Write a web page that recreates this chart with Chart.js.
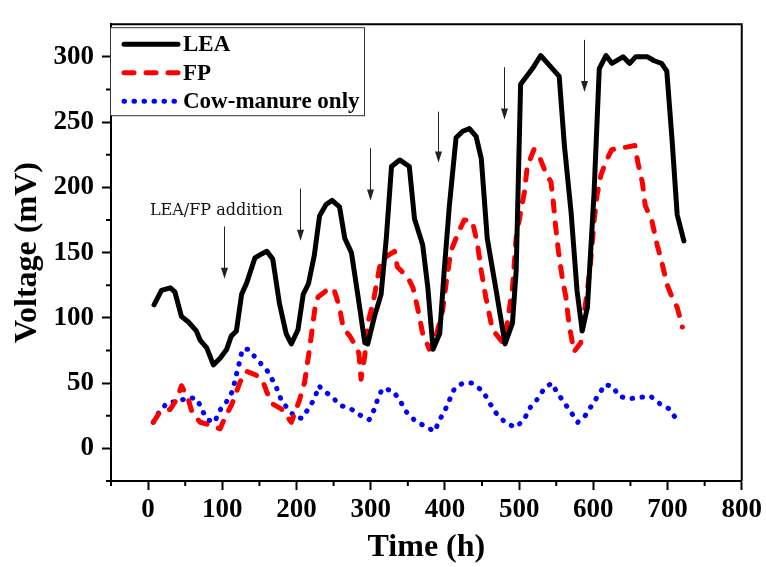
<!DOCTYPE html>
<html>
<head>
<meta charset="UTF-8">
<title>Voltage vs time</title>
<script src="https://cdn.jsdelivr.net/npm/chart.js"></script>
<style>
  body { margin: 0; background: #fff; }
</style>
</head>
<body>
<canvas id="chart" width="766" height="567"></canvas>
<script>
// LEA (black line)
const leaTime = [8, 18, 30, 36, 45, 54, 65, 70, 79, 88, 97, 106, 112, 119, 126, 133, 144, 153, 160, 168,
  177, 186, 193, 202, 209, 216, 224, 231, 240, 248, 258, 265, 274, 283, 292, 296, 305, 314, 321, 328,
  339, 352, 359, 370, 377, 384, 393, 399, 406, 415, 424, 433, 442, 449, 457, 469, 481, 491, 496, 502,
  518, 529, 540, 554, 561, 570, 578, 585, 592, 601, 608, 617, 625, 640, 649, 657, 673, 682, 692, 699,
  706, 713, 722];
const leaVoltage = [110, 121, 123, 120, 101, 97, 90, 83, 77, 64, 69, 76, 86, 90, 118, 127, 146, 149, 151, 145,
  111, 88, 80, 91, 118, 126, 148, 178, 187, 190, 185, 161, 150, 116, 81, 80, 101, 118, 161, 216,
  221, 216, 176, 156, 123, 76, 88, 136, 186, 238, 243, 245, 239, 222, 161, 121, 80, 96, 136, 279,
  291, 301, 294, 285, 232, 181, 121, 90, 108, 196, 291, 301, 295, 300, 295, 300, 300, 297, 295, 289,
  237, 179, 159];

// FP (red dashes)
const fpTime = [7, 16, 30, 39, 45, 54, 59, 70, 83, 97, 104, 113, 124, 133, 146, 155, 160, 168, 180, 193,
  204, 211, 218, 225, 229, 245, 251, 258, 263, 272, 276, 284, 287, 292, 296, 303, 312, 321, 332, 336,
  350, 357, 363, 370, 379, 388, 397, 402, 408, 417, 426, 437, 444, 449, 455, 464, 478, 484, 491, 496,
  502, 507, 511, 520, 527, 536, 543, 546, 549, 553, 558, 563, 567, 574, 583, 587, 592, 596, 601, 605,
  610, 617, 625, 637, 656, 660, 666, 670, 679, 686, 693, 699, 706, 713, 720];
const fpVoltage = [20, 28, 30, 38, 48, 38, 28, 20, 18, 15, 24, 34, 51, 59, 56, 51, 43, 34, 30, 20,
  37, 51, 78, 108, 116, 123, 121, 108, 92, 86, 82, 73, 53, 71, 96, 111, 139, 147, 151, 139,
  131, 123, 108, 88, 76, 86, 106, 128, 151, 164, 175, 174, 156, 136, 116, 91, 81, 96, 123, 161,
  181, 196, 216, 229, 224, 211, 204, 189, 171, 151, 131, 116, 96, 74, 81, 101, 121, 141, 174, 194,
  209, 220, 229, 230, 232, 219, 204, 186, 174, 156, 141, 126, 116, 108, 93];

// Cow-manure only (blue dots)
const cowTime = [7, 15, 26, 41, 54, 66, 73, 80, 90, 95, 106, 114, 117, 124, 127, 135, 147, 160, 168, 175,
  180, 189, 198, 207, 218, 225, 230, 237, 247, 259, 274, 287, 298, 305, 310, 316, 330, 339, 348, 360,
  373, 386, 393, 400, 406, 413, 424, 436, 451, 460, 469, 481, 495, 507, 513, 525, 534, 544, 551, 562,
  572, 579, 589, 598, 607, 616, 627, 634, 648, 662, 677, 690, 703, 711];
const cowVoltage = [20, 28, 35, 36, 39, 38, 29, 22, 20, 28, 36, 44, 52, 68, 76, 76, 68, 60, 52, 44,
  36, 30, 24, 23, 32, 39, 48, 44, 40, 33, 30, 25, 22, 30, 39, 46, 44, 37, 28, 21,
  17, 13, 22, 29, 37, 46, 50, 50, 44, 35, 27, 20, 16, 22, 30, 38, 46, 50, 43, 34,
  26, 20, 25, 33, 41, 49, 47, 40, 38, 39, 40, 34, 30, 23];

const xTicks = [0, 100, 200, 300, 400, 500, 600, 700, 800];
const xMinorTicks = [-50, 50, 150, 250, 350, 450, 550, 650, 750];
const yTicks = [0, 50, 100, 150, 200, 250, 300];
const yMinorTicks = [-25, 25, 75, 125, 175, 225, 275];

// LEA/FP addition arrows: time, top of shaft, tip (mV)
const additionTimes = [102, 205, 299, 390, 480, 588];
const arrowTop = [170, 199, 230, 258, 292, 313];
const arrowTip = [130, 159, 190, 219, 252, 273];
const noteText = 'LEA/FP addition';
const noteAt = { x: 92, y: 182 };

const serif = 'Liberation Serif, Times New Roman, serif';

const toPoints = (xs, ys) => xs.map((x, i) => ({ x: x, y: ys[i] }));

const decorations = {
  id: 'decorations',
  afterDraw(chart) {
    const ctx = chart.ctx;
    const a = chart.chartArea;
    const xs = chart.scales.x, ys = chart.scales.y;
    ctx.save();

    // top and right frame
    ctx.strokeStyle = '#000';
    ctx.lineWidth = 2;
    ctx.beginPath();
    ctx.moveTo(a.left, a.top);
    ctx.lineTo(a.right, a.top);
    ctx.lineTo(a.right, a.bottom);
    ctx.stroke();

    // minor ticks
    ctx.beginPath();
    xMinorTicks.forEach(v => {
      const px = xs.getPixelForValue(v);
      ctx.moveTo(px, a.bottom);
      ctx.lineTo(px, a.bottom + 5);
    });
    yMinorTicks.forEach(v => {
      const py = ys.getPixelForValue(v);
      ctx.moveTo(a.left, py);
      ctx.lineTo(a.left - 5, py);
    });
    ctx.stroke();

    // arrows
    ctx.strokeStyle = '#222';
    ctx.fillStyle = '#222';
    ctx.lineWidth = 1;
    additionTimes.forEach((t, i) => {
      const px = Math.round(xs.getPixelForValue(t)) + 0.5;
      const top = ys.getPixelForValue(arrowTop[i]);
      const tip = ys.getPixelForValue(arrowTip[i]);
      ctx.beginPath();
      ctx.moveTo(px, top);
      ctx.lineTo(px, tip - 8);
      ctx.stroke();
      ctx.beginPath();
      ctx.moveTo(px, tip);
      ctx.lineTo(px - 3.5, tip - 11);
      ctx.lineTo(px + 3.5, tip - 11);
      ctx.closePath();
      ctx.fill();
    });

    // note
    ctx.fillStyle = '#111';
    ctx.font = '16px "DejaVu Serif", serif';
    ctx.textAlign = 'center';
    ctx.textBaseline = 'middle';
    ctx.fillText(noteText, xs.getPixelForValue(noteAt.x), ys.getPixelForValue(noteAt.y));

    // legend box
    const bx = a.left - 1, by = a.top + 3, bw = 254, bh = 88;
    ctx.fillStyle = '#fff';
    ctx.fillRect(bx, by, bw, bh);
    ctx.strokeStyle = '#333';
    ctx.lineWidth = 1;
    ctx.strokeRect(bx + 0.5, by + 0.5, bw, bh);

    chart.data.datasets.forEach((ds, i) => {
      const ry = by + 17 + i * 28.5;
      ctx.save();
      ctx.strokeStyle = ds.borderColor;
      ctx.lineWidth = ds.borderWidth;
      ctx.lineCap = ds.borderCapStyle || 'butt';
      ctx.setLineDash(ds.borderDash || []);
      ctx.beginPath();
      ctx.moveTo(bx + 14, ry);
      ctx.lineTo(bx + 68, ry);
      ctx.stroke();
      ctx.restore();
      ctx.fillStyle = '#000';
      ctx.font = 'bold 23px ' + serif;
      ctx.textAlign = 'left';
      ctx.textBaseline = 'middle';
      ctx.fillText(ds.label, bx + 73, ry + 1);
    });

    ctx.restore();
  }
};

new Chart(document.getElementById('chart'), {
  type: 'line',
  data: {
    datasets: [
      {
        label: 'LEA',
        data: toPoints(leaTime, leaVoltage),
        borderColor: '#000000',
        borderWidth: 5,
        borderJoinStyle: 'round',
        borderCapStyle: 'round'
      },
      {
        label: 'FP',
        data: toPoints(fpTime, fpVoltage),
        borderColor: '#ff0000',
        borderWidth: 5,
        borderDash: [10, 12],
        borderJoinStyle: 'round',
        borderCapStyle: 'round'
      },
      {
        label: 'Cow-manure only',
        data: toPoints(cowTime, cowVoltage),
        borderColor: '#0000ff',
        borderWidth: 5,
        borderDash: [0.5, 9.5],
        borderJoinStyle: 'round',
        borderCapStyle: 'round'
      }
    ]
  },
  options: {
    responsive: false,
    devicePixelRatio: 1,
    animation: false,
    elements: { point: { radius: 0 }, line: { tension: 0 } },
    layout: { padding: { top: 16, right: 22, left: 0, bottom: 0 } },
    plugins: { legend: { display: false }, tooltip: { enabled: false } },
    scales: {
      x: {
        type: 'linear',
        min: -50,
        max: 800,
        afterBuildTicks: s => { s.ticks = xTicks.map(v => ({ value: v })); },
        afterFit: s => { s.height = 86; },
        grid: { drawOnChartArea: false, tickLength: 9, tickWidth: 2, tickColor: '#000' },
        border: { color: '#000', width: 2 },
        ticks: { color: '#000', padding: 4, maxRotation: 0, font: { family: serif, size: 27, weight: 'bold' } },
        title: { display: true, text: 'Time (h)', color: '#000', padding: { top: 0, bottom: 0 },
          font: { family: serif, size: 32, weight: 'bold' } }
      },
      y: {
        type: 'linear',
        min: -25,
        max: 325,
        afterBuildTicks: s => { s.ticks = yTicks.map(v => ({ value: v })); },
        afterFit: s => { s.width = 111; },
        grid: { drawOnChartArea: false, tickLength: 9, tickWidth: 2, tickColor: '#000' },
        border: { color: '#000', width: 2 },
        ticks: { color: '#000', padding: 8, font: { family: serif, size: 27, weight: 'bold' } },
        title: { display: true, text: 'Voltage (mV)', color: '#000', padding: { top: 9, bottom: 0 },
          font: { family: serif, size: 32, weight: 'bold' } }
      }
    }
  },
  plugins: [decorations]
});
</script>
</body>
</html>
